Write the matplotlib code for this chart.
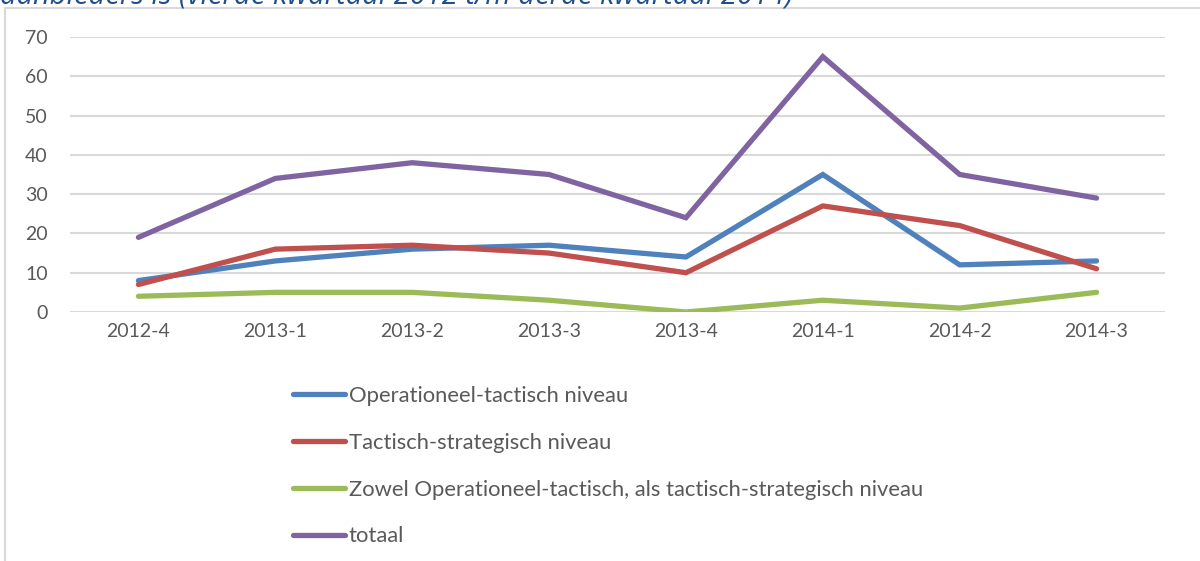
import matplotlib.pyplot as plt
from matplotlib.patches import Rectangle

# Data (kwartalen)
kwartalen = ['2012-4', '2013-1', '2013-2', '2013-3', '2013-4', '2014-1', '2014-2', '2014-3']
operationeel = [8, 13, 16, 17, 14, 35, 12, 13]
tactisch = [7, 16, 17, 15, 10, 27, 22, 11]
zowel = [4, 5, 5, 3, 0, 3, 1, 5]
totaal = [19, 34, 38, 35, 24, 65, 35, 29]

labels = ['Operationeel-tactisch niveau',
          'Tactisch-strategisch niveau',
          'Zowel Operationeel-tactisch, als tactisch-strategisch niveau',
          'totaal']
kleuren = ['#4F81BD', '#C0504D', '#9BBB59', '#8064A2']

plt.rcParams['font.family'] = ['Lato', 'DejaVu Sans']

fig = plt.figure(figsize=(12, 5.61), dpi=100)

# rand van het grafiekvak
fig.patches.append(Rectangle((5 / 1200, -0.1), 1.2, 1 - 8 / 561 + 0.1,
                             transform=fig.transFigure, fill=False,
                             edgecolor='#D9D9D9', linewidth=1.5))

# titel, bovenkant valt buiten beeld
fig.text(0.0, 1 - 4 / 561, 'aanbieders is (vierde kwartaal 2012 t/m derde kwartaal 2014)',
         color='#1F4E8C', fontsize=21, style='italic', ha='left', va='baseline',
         family=['Open Sans', 'DejaVu Sans'])

ax = fig.add_axes([70 / 1200, 1 - 312 / 561, 1095 / 1200, 275 / 561])
x = range(len(kwartalen))
for serie, lab, kl in zip([operationeel, tactisch, zowel, totaal], labels, kleuren):
    ax.plot(x, serie, color=kl, linewidth=3.8, label=lab, solid_capstyle='round',
            solid_joinstyle='miter')

ax.set_xlim(-0.5, len(kwartalen) - 0.5)
ax.set_ylim(0, 70)
ax.set_yticks(range(0, 71, 10))
ax.set_xticks(list(x))
ax.set_xticklabels(kwartalen)
ax.grid(axis='y', color='#D9D9D9', linewidth=1.5)
ax.set_axisbelow(True)
for s in ax.spines.values():
    s.set_visible(False)
ax.tick_params(length=0, labelsize=14, colors='#595959', pad=8)
ax.tick_params(axis='y', pad=16)

leg = fig.legend(loc='upper left', bbox_to_anchor=(293 / 1200, 1 - 386 / 561),
                 bbox_transform=fig.transFigure, frameon=False,
                 fontsize=15.8, handlelength=2.35, handletextpad=0.2, labelspacing=1.22,
                 borderaxespad=0, borderpad=0)
for t in leg.get_texts():
    t.set_color('#595959')

fig.savefig('out.png', dpi=100)
